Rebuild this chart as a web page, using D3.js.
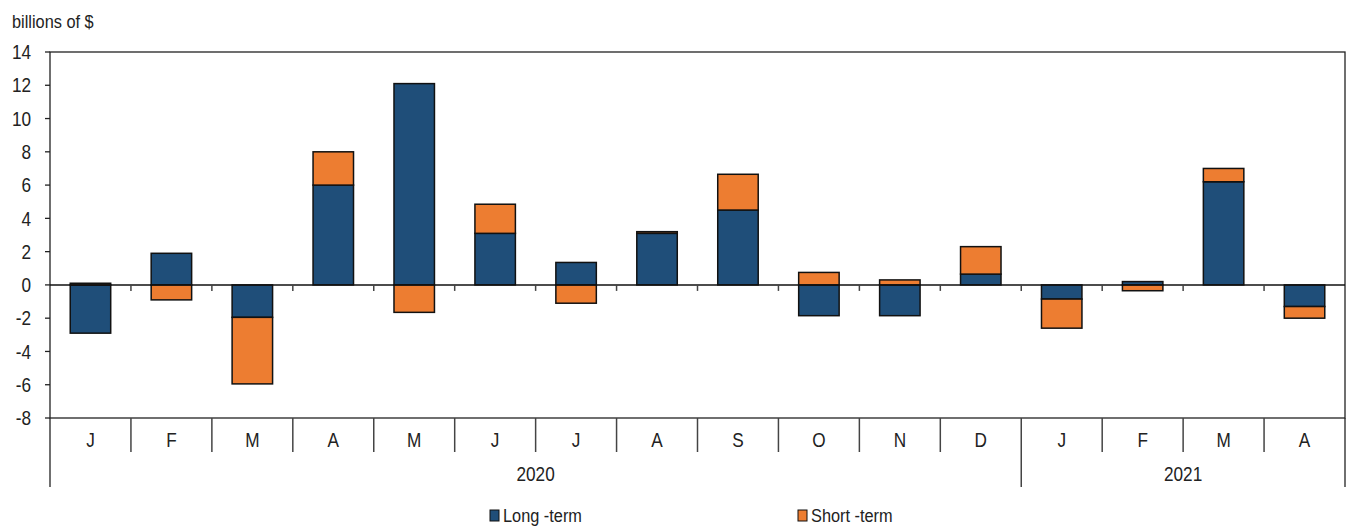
<!DOCTYPE html>
<html>
<head>
<meta charset="utf-8">
<script src="https://cdn.jsdelivr.net/npm/d3@7"></script>
<style>
  body { margin: 0; background: #fff; }
  text { font-family: "Liberation Sans Narrow", "Liberation Sans", Arial, sans-serif; fill: #222; }
</style>
</head>
<body>
<svg id="mainsvg" width="1346" height="527"></svg>
<script>
const months = ['J','F','M','A','M','J','J','A','S','O','N','D','J','F','M','A'];
const years = [{label: '2020', from: 0, to: 12}, {label: '2021', from: 12, to: 16}];
const longTerm = [-2.9, 1.9, -1.95, 6.0, 12.1, 3.1, 1.35, 3.1, 4.5, -1.85, -1.85, 0.65, -0.85, 0.2, 6.2, -1.3];
const shortTerm = [0.1, -0.9, -4.0, 2.0, -1.65, 1.75, -1.1, 0.1, 2.15, 0.75, 0.3, 1.65, -1.75, -0.35, 0.8, -0.7];
const yTicks = [14, 12, 10, 8, 6, 4, 2, 0, -2, -4, -6, -8];
const seriesNames = ['Long -term', 'Short -term'];
const colors = ['#1f4e79', '#ed7d31'];

const svg = d3.select('#mainsvg');
const margin = {left: 50, right: 1345, top: 52, bottom: 418};
const narrow = 0.86; // squeeze text a bit, the original uses a condensed face

const x = d3.scaleBand().domain(d3.range(months.length)).range([margin.left, margin.right]).paddingInner(0).paddingOuter(0);
const y = d3.scaleLinear().domain([-8, 14]).range([margin.bottom, margin.top]);

const rows = months.map((m, i) => ({i, long: longTerm[i], short: shortTerm[i]}));
const stacked = d3.stack().keys(['long', 'short']).offset(d3.stackOffsetDiverging)(rows);

const g = svg.append('g');

// place a text with a horizontal squeeze
const put = (sel, fx, fy) => sel.attr('transform', (d, i) => `translate(${fx(d, i)},${fy(d, i)}) scale(${narrow},1)`);

// frame
g.append('rect')
  .attr('x', margin.left).attr('y', margin.top)
  .attr('width', margin.right - margin.left).attr('height', margin.bottom - margin.top)
  .attr('fill', 'none').attr('stroke', '#222').attr('stroke-width', 1.3);

// bars
const bw = x.bandwidth() * 0.5;
g.selectAll('.layer').data(stacked).join('g')
  .attr('class', 'layer')
  .attr('fill', (d, k) => colors[k])
  .selectAll('rect').data(d => d).join('rect')
  .attr('x', d => x(d.data.i) + (x.bandwidth() - bw) / 2)
  .attr('width', bw)
  .attr('y', d => y(Math.max(d[0], d[1])))
  .attr('height', d => Math.abs(y(d[0]) - y(d[1])))
  .attr('stroke', '#111').attr('stroke-width', 1.5);

// zero line
g.append('line')
  .attr('x1', margin.left).attr('x2', margin.right)
  .attr('y1', y(0)).attr('y2', y(0))
  .attr('stroke', '#111').attr('stroke-width', 1.5);

// small ticks under zero line at band boundaries
g.selectAll('.zt').data(d3.range(1, months.length)).join('line')
  .attr('class', 'zt')
  .attr('x1', i => x(i)).attr('x2', i => x(i))
  .attr('y1', y(0)).attr('y2', y(0) + 6)
  .attr('stroke', '#444').attr('stroke-width', 1.5);

// y axis labels
g.selectAll('.ytick').data(yTicks).join('text')
  .attr('class', 'ytick')
  .call(put, () => margin.left - 19, d => y(d))
  .attr('dy', '0.36em').attr('text-anchor', 'end')
  .attr('font-size', 20)
  .text(d => d);
g.selectAll('.ytl').data(yTicks).join('line')
  .attr('class', 'ytl')
  .attr('x1', margin.left - 5).attr('x2', margin.left)
  .attr('y1', d => y(d)).attr('y2', d => y(d))
  .attr('stroke', '#222').attr('stroke-width', 1.3);

svg.append('text').datum(0).call(put, () => 12, () => 28).attr('font-size', 19).text('billions of $');

// category axis
const monthTickBottom = margin.bottom + 34;
const yearTickBottom = margin.bottom + 69;
g.selectAll('.mt').data(d3.range(1, months.length)).join('line')
  .attr('class', 'mt')
  .attr('x1', i => x(i)).attr('x2', i => x(i))
  .attr('y1', margin.bottom)
  .attr('y2', i => years.some(yr => yr.from === i) ? yearTickBottom : monthTickBottom)
  .attr('stroke', '#444').attr('stroke-width', 1.5);
[margin.left, margin.right].forEach(px => {
  g.append('line').attr('x1', px).attr('x2', px).attr('y1', margin.bottom).attr('y2', yearTickBottom)
    .attr('stroke', '#222').attr('stroke-width', 1.3);
});
g.selectAll('.ml').data(months).join('text')
  .attr('class', 'ml')
  .call(put, (d, i) => x(i) + x.bandwidth() / 2, () => margin.bottom + 29)
  .attr('text-anchor', 'middle').attr('font-size', 20)
  .text(d => d);
g.selectAll('.yl').data(years).join('text')
  .attr('class', 'yl')
  .call(put, d => (x(d.from) + (d.to < months.length ? x(d.to) : margin.right)) / 2, () => margin.bottom + 63)
  .attr('text-anchor', 'middle').attr('font-size', 20)
  .text(d => d.label);

// legend
const legendX = [490, 798];
const lg = svg.selectAll('.legend').data(seriesNames).join('g')
  .attr('class', 'legend')
  .attr('transform', (d, i) => `translate(${legendX[i]}, 510)`);
lg.append('rect').attr('width', 9).attr('height', 11).attr('y', 0)
  .attr('fill', (d, i) => colors[i]).attr('stroke', '#111').attr('stroke-width', 1);
lg.append('text').datum(d => d).call(put, () => 13, () => 12).attr('font-size', 19).text(d => d);
</script>
</body>
</html>
